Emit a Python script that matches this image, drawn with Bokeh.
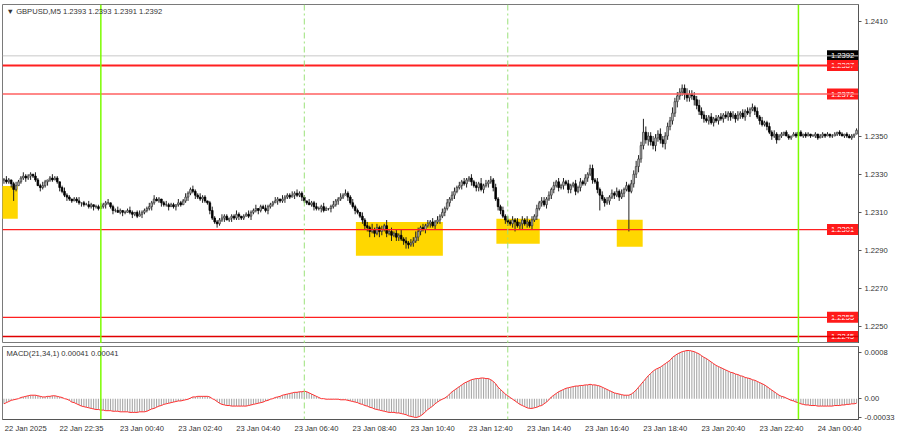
from bokeh.plotting import figure
from bokeh.models import Range1d, Span, Label, FixedTicker, NumeralTickFormatter, ColumnDataSource
from bokeh.core.properties import value
from bokeh.layouts import column
from bokeh.embed import file_html
from bokeh.resources import INLINE

# ---------------- data ----------------
PIP = 0.0001
BASE = 1.2200  # close_pips are pips above this price

# GBPUSD M5 closes, one per bar, starting 22 Jan 20:40
close_pips = [
    127, 126, 127, 125, 122, 124, 126, 128, 129, 128,
    129, 130, 129, 127, 124, 123, 124, 126, 127, 128,
    127, 128, 126, 123, 121, 119, 118, 117, 116, 117,
    116, 115, 115, 114, 114, 113, 114, 113, 113, 112,
    113, 114, 115, 115, 113, 111, 111, 110, 111, 110,
    110, 111, 110, 109, 110, 108, 109, 110, 111, 112,
    113, 115, 117, 116, 117, 115, 114, 114, 113, 114,
    113, 114, 115, 114, 116, 118, 120, 122, 121, 119,
    118, 117, 118, 116, 115, 111, 107, 105, 104, 106,
    107, 108, 106, 107, 108, 107, 109, 108, 107, 108,
    109, 108, 110, 111, 112, 111, 113, 112, 111, 113,
    114, 115, 116, 117, 116, 117, 118, 119, 118, 119,
    120, 119, 120, 118, 116, 115, 114, 115, 113, 112,
    112, 113, 111, 112, 112, 113, 114, 116, 117, 118,
    119, 120, 118, 115, 113, 111, 110, 108, 106, 103,
    102, 100, 101, 99, 102, 100, 101, 103, 99, 100,
    98, 99, 97, 98, 96, 95, 94, 93, 94, 95,
    97, 100, 102, 101, 103, 104, 105, 103, 105, 106,
    108, 110, 112, 115, 117, 119, 121, 123, 124, 126,
    125, 127, 128, 126, 124, 123, 125, 122, 124, 125,
    126, 127, 123, 117, 113, 111, 108, 106, 105, 104,
    106, 105, 103, 104, 106, 104, 105, 103, 106, 108,
    112, 115, 116, 114, 117, 119, 122, 124, 126, 123,
    124, 126, 125, 122, 124, 125, 121, 123, 126, 125,
    128, 130, 133, 127, 126, 122, 119, 117, 115, 116,
    118, 120, 119, 121, 118, 120, 122, 124, 121, 125,
    130, 134, 138, 145, 152, 148, 150, 147, 145, 149,
    151, 148, 146, 150, 155, 158, 162, 168, 171, 173,
    175, 172, 170, 172, 171, 169, 166, 163, 161, 159,
    158, 160, 157, 159, 158, 160, 159, 161, 160, 162,
    160, 161, 159, 161, 162, 160, 163, 162, 164, 165,
    163, 160, 158, 156, 157, 155, 152, 150, 151, 148,
    150, 151, 152, 150, 149, 150, 151, 150, 152, 150,
    151, 150, 151, 150, 150, 151, 149, 150, 151, 150,
    151, 150, 150, 151, 152, 151, 150, 151, 150, 149,
    150, 151, 153,
]

# wick length above / below each body, in pips
upper_wick_pips = [
    1, 2, 1, 0, 1, 2, 1, 1, 2, 1,  1, 1, 0, 2, 1, 1, 2, 1, 0, 1,
    2, 1, 1, 0, 1, 2, 1, 1, 0, 1,  1, 2, 0, 1, 1, 2, 1, 0, 1, 1,
    2, 1, 1, 2, 0, 1, 1, 2, 1, 0,  1, 1, 2, 1, 0, 1, 2, 1, 1, 1,
    2, 1, 2, 1, 1, 0, 1, 2, 1, 1,  1, 0, 2, 1, 1, 2, 1, 1, 2, 1,
    1, 2, 1, 1, 0, 1, 2, 1, 1, 1,  2, 1, 1, 0, 1, 1, 2, 1, 0, 1,
    1, 2, 1, 1, 2, 0, 1, 1, 2, 1,  1, 1, 2, 1, 0, 2, 1, 1, 1, 2,
    1, 2, 1, 1, 1, 0, 2, 1, 1, 2,  1, 1, 2, 1, 0, 1, 2, 1, 1, 2,
    1, 2, 1, 1, 2, 1, 1, 0, 2, 1,  2, 1, 3, 1, 2, 1, 2, 1, 3, 1,
    2, 1, 2, 1, 3, 1, 2, 1, 2, 2,  3, 2, 1, 2, 1, 2, 1, 2, 1, 2,
    1, 2, 1, 2, 1, 2, 2, 1, 2, 1,  2, 1, 1, 2, 1, 2, 1, 3, 1, 2,
    1, 2, 1, 2, 1, 1, 2, 1, 2, 1,  2, 1, 2, 1, 2, 1, 3, 1, 2, 1,
    2, 1, 2, 2, 1, 2, 1, 2, 1, 2,  1, 2, 1, 2, 1, 1, 2, 1, 2, 1,
    2, 1, 1, 2, 1, 2, 1, 2, 1, 2,  1, 2, 1, 2, 1, 2, 1, 2, 1, 2,
    2, 3, 2, 2, 2, 3, 2, 2, 3, 2,  2, 3, 2, 2, 2, 2, 3, 2, 2, 2,
    2, 2, 3, 2, 2, 2, 2, 3, 2, 2,  2, 1, 2, 1, 2, 1, 2, 1, 2, 1,
    1, 2, 1, 2, 1, 2, 1, 2, 1, 2,  1, 2, 1, 2, 1, 1, 2, 1, 2, 1,
    1, 1, 0, 1, 1, 0, 1, 1, 0, 1,  0, 1, 1, 0, 1, 1, 0, 1, 1, 0,
    1, 0, 1, 1, 0, 1, 1, 0, 1, 1,  1, 0, 1,
]
lower_wick_pips = [
    2, 1, 1, 2, 1, 1, 0, 1, 1, 2,  1, 2, 1, 1, 0, 2, 1, 1, 2, 1,
    1, 0, 1, 2, 1, 1, 2, 1, 1, 0,  1, 1, 2, 1, 0, 1, 1, 2, 1, 1,
    0, 1, 2, 1, 1, 2, 1, 0, 1, 2,  1, 0, 1, 2, 1, 1, 0, 2, 1, 1,
    1, 2, 1, 0, 1, 2, 1, 1, 2, 0,  1, 2, 1, 1, 0, 1, 2, 1, 1, 2,
    1, 1, 2, 1, 1, 2, 1, 1, 2, 1,  1, 2, 0, 1, 2, 1, 1, 2, 1, 1,
    0, 1, 2, 1, 1, 2, 1, 0, 1, 2,  1, 1, 0, 2, 1, 1, 2, 1, 1, 0,
    2, 1, 1, 2, 1, 1, 0, 1, 2, 1,  1, 2, 1, 0, 1, 2, 1, 1, 2, 1,
    1, 0, 2, 1, 1, 2, 1, 1, 2, 2,  2, 3, 1, 2, 1, 3, 2, 1, 2, 1,
    3, 1, 2, 2, 1, 2, 3, 2, 1, 2,  1, 2, 2, 1, 2, 1, 2, 1, 2, 1,
    2, 1, 2, 1, 2, 1, 2, 1, 1, 2,  1, 2, 1, 2, 1, 2, 2, 1, 2, 1,
    2, 1, 2, 1, 2, 2, 1, 2, 2, 1,  2, 2, 1, 2, 3, 1, 2, 1, 2, 1,
    2, 1, 2, 1, 2, 1, 2, 2, 1, 2,  1, 2, 1, 2, 2, 1, 2, 1, 2, 1,
    1, 2, 1, 2, 1, 2, 1, 1, 2, 1,  2, 1, 2, 1, 2, 1, 2, 1, 2, 1,
    2, 2, 3, 2, 2, 2, 3, 2, 2, 3,  2, 2, 2, 3, 2, 2, 2, 2, 3, 2,
    2, 3, 2, 2, 2, 3, 2, 2, 2, 2,  1, 2, 1, 2, 1, 2, 1, 2, 1, 2,
    2, 1, 2, 1, 2, 1, 2, 1, 2, 1,  2, 1, 2, 1, 1, 2, 1, 2, 1, 2,
    0, 1, 1, 0, 1, 1, 0, 1, 1, 0,  1, 1, 0, 1, 0, 1, 1, 0, 1, 1,
    0, 1, 1, 0, 1, 1, 0, 1, 1, 0,  1, 1, 0,
]

# bars with visibly long wicks
high_wick_bars = [11, 77, 192, 242, 264, 280, 309]
high_wick_pips = [131, 123, 129, 135, 159, 177, 166]
low_wick_bars = [4, 88, 166, 211, 246, 258]
low_wick_pips = [116, 102, 92, 100, 111, 100]

# MACD(21,34,1) per bar, in units of 0.00001
macd_e5 = [
    -9, -7, -5, -3, -2, -1, 0, 2, 3, 4,
    5, 6, 6, 6, 5, 4, 3, 3, 4, 4,
    5, 5, 4, 3, 2, 0, -1, -3, -6, -7,
    -9, -11, -13, -14, -15, -16, -17, -18, -19, -19,
    -20, -20, -21, -21, -21, -22, -22, -22, -23, -23,
    -23, -23, -24, -24, -24, -24, -23, -23, -23, -22,
    -20, -18, -17, -15, -13, -12, -10, -9, -8, -7,
    -6, -5, -4, -4, -3, -2, -1, 1, 3, 3,
    4, 4, 4, 4, 4, 3, 0, -2, -5, -8,
    -10, -11, -12, -12, -13, -13, -13, -13, -13, -13,
    -13, -12, -11, -10, -9, -8, -7, -6, -4, -3,
    -1, 0, 2, 3, 4, 6, 7, 8, 9, 10,
    11, 11, 12, 12, 13, 12, 10, 8, 6, 4,
    2, 0, 0, -1, -1, -1, -1, -1, -1, -2,
    -2, -2, -3, -4, -5, -6, -7, -9, -10, -12,
    -13, -15, -16, -18, -19, -20, -21, -22, -23, -24,
    -24, -24, -25, -25, -26, -27, -28, -30, -31, -32,
    -33, -32, -30, -27, -23, -19, -16, -13, -9, -6,
    -3, -1, 1, 4, 8, 12, 15, 18, 21, 24,
    27, 29, 31, 33, 34, 35, 35, 36, 36, 35,
    35, 33, 30, 26, 20, 16, 12, 8, 5, 2,
    -1, -4, -7, -10, -12, -14, -16, -17, -17, -16,
    -15, -13, -12, -9, -6, -2, 3, 6, 9, 12,
    14, 16, 18, 19, 20, 21, 22, 22, 23, 23,
    24, 24, 25, 24, 24, 23, 22, 20, 18, 16,
    14, 12, 10, 9, 8, 7, 6, 6, 6, 8,
    11, 15, 20, 25, 30, 35, 40, 44, 48, 51,
    53, 55, 58, 61, 64, 67, 72, 75, 78, 80,
    82, 83, 84, 84, 83, 82, 80, 78, 75, 72,
    70, 67, 64, 61, 58, 56, 54, 52, 50, 48,
    46, 45, 43, 42, 40, 39, 37, 36, 35, 33,
    32, 30, 28, 26, 24, 21, 18, 15, 12, 9,
    6, 4, 3, 1, -1, -3, -4, -6, -7, -9,
    -10, -11, -11, -12, -12, -12, -13, -13, -13, -13,
    -13, -13, -13, -12, -12, -12, -11, -11, -10, -10,
    -9, -9, -8,
]

# horizontal levels and their price tags
level_prices = [1.2392, 1.2387, 1.2372, 1.2301, 1.2255, 1.2245]
level_texts = ["1.2392", "1.2387", "1.2372", "1.2301", "1.2255", "1.2245"]

# yellow zones (bar index / price)
zone_left = [-1.0, 145.3, 203.3, 253.0]
zone_right = [5.7, 181.2, 221.2, 263.7]
zone_top = [1.23238, 1.23050, 1.23066, 1.23061]
zone_bottom = [1.23066, 1.22873, 1.22936, 1.22920]

# vertical markers (bar index)
day_break_bars = [40, 328]
session_bars = [124, 208]

# time axis (bar where each label starts)
tick_bars = [0, 23, 48, 72, 96, 120, 144, 168, 192, 216, 240, 264, 288, 312, 336]
tick_labels = ["22 Jan 2025", "22 Jan 22:35", "23 Jan 00:40", "23 Jan 02:40",
               "23 Jan 04:40", "23 Jan 06:40", "23 Jan 08:40", "23 Jan 10:40",
               "23 Jan 12:40", "23 Jan 14:40", "23 Jan 16:40", "23 Jan 18:40",
               "23 Jan 20:40", "23 Jan 22:40", "24 Jan 00:40"]

price_ticks = [1.2250, 1.2270, 1.2290, 1.2310, 1.2330, 1.2350, 1.2410]
macd_ticks = [-33, 0, 80]
macd_tick_texts = ["-0.00033", "0.00", "0.0008"]

header_text = "\u25bc GBPUSD,M5  1.2393 1.2393 1.2391 1.2392"
macd_header = "MACD(21,34,1) 0.00041 0.00041"

# ---------------- build OHLC ----------------
n = len(close_pips)
bars = list(range(n))
closes = [BASE + c * PIP for c in close_pips]
opens = [closes[0]] + closes[:-1]
highs = [max(o, c) + u * PIP for o, c, u in zip(opens, closes, upper_wick_pips)]
lows = [min(o, c) - d * PIP for o, c, d in zip(opens, closes, lower_wick_pips)]
for b, v in zip(high_wick_bars, high_wick_pips):
    highs[b] = max(highs[b], BASE + v * PIP)
for b, v in zip(low_wick_bars, low_wick_pips):
    lows[b] = min(lows[b], BASE + v * PIP)

up = [c >= o for o, c in zip(opens, closes)]
src_up = ColumnDataSource(dict(
    x=[b for b in bars if up[b]],
    top=[max(opens[b], closes[b]) for b in bars if up[b]],
    bottom=[min(opens[b], closes[b]) for b in bars if up[b]]))
src_dn = ColumnDataSource(dict(
    x=[b for b in bars if not up[b]],
    top=[max(opens[b], closes[b]) for b in bars if not up[b]],
    bottom=[min(opens[b], closes[b]) for b in bars if not up[b]]))
src_wick = ColumnDataSource(dict(x=bars, hi=highs, lo=lows))

FONT = "Liberation Sans"
FS = "7.6px"
X0, X1 = -0.6, 352.8
FRAME_W = 856
LEFT_B = 2
LABEL_SHIFT = 9  # bars: centre of a label that starts at its bar
PX_PER_BAR = FRAME_W / (X1 - X0)

# ---------------- main price panel ----------------
p = figure(frame_width=FRAME_W, frame_height=339, x_range=Range1d(X0, X1),
           y_range=Range1d(1.22413, 1.24189),
           output_backend="svg", toolbar_location=None,
           x_axis_location=None, y_axis_location="right",
           min_border_left=LEFT_B, min_border_right=0, min_border_top=4, min_border_bottom=0)
p.grid.visible = False
p.outline_line_color = "#7a7a7a"
p.background_fill_color = "white"
p.border_fill_color = "white"

p.quad(left=zone_left, right=zone_right, top=zone_top, bottom=zone_bottom,
       fill_color="#FFD700", line_color=None)

p.segment(x0="x", y0="lo", x1="x", y1="hi", source=src_wick, line_color="#222222", line_width=1)
p.vbar(x="x", top="top", bottom="bottom", width=0.68, source=src_up,
       fill_color="#d0d0d0", line_color="#3a3a3a", line_width=0.8)
p.vbar(x="x", top="top", bottom="bottom", width=0.68, source=src_dn,
       fill_color="#000000", line_color="#000000", line_width=0.8)

level_colors = ["#c8c8c8", "#ff2020", "#ff6060", "#ff2020", "#ff2020", "#e00000"]
level_widths = [1, 2, 1.5, 1.3, 1.3, 1.6]
for lp, lc, lw in zip(level_prices, level_colors, level_widths):
    p.add_layout(Span(location=lp, dimension="width", line_color=lc, line_width=lw))

for b in day_break_bars:
    p.add_layout(Span(location=b, dimension="height", line_color="#7cfc00", line_width=1.5))
for b in session_bars:
    p.add_layout(Span(location=b, dimension="height", line_color="#9be27a",
                      line_width=1, line_dash="6 3 2 3"))

# price tags at the right edge of the chart
tag_w, tag_h = 31, 11
tag_x = X1 - (tag_w / 2 + 0.5) / PX_PER_BAR
tag_colors = ["#000000" if t == "1.2392" else "#ff1a1a" for t in level_texts]
tag_src = ColumnDataSource(dict(y=level_prices, t=level_texts, c=tag_colors,
                                x=[tag_x] * len(level_prices)))
p.rect(x="x", y="y", width=tag_w, height=tag_h, width_units="screen", height_units="screen",
       fill_color="c", line_color=None, source=tag_src)
p.text(x="x", y="y", text="t", source=tag_src, text_align="center", text_baseline="middle",
       text_font=value(FONT), text_font_size=value(FS), text_color="white")

ax = p.yaxis[0]
ax.ticker = FixedTicker(ticks=price_ticks)
ax.formatter = NumeralTickFormatter(format="0.0000")
ax.axis_line_color = "#555555"
ax.major_tick_line_color = "#555555"
ax.major_tick_out = 3
ax.major_tick_in = 0
ax.minor_tick_line_color = None
ax.major_label_text_font = FONT
ax.major_label_text_font_size = FS
ax.major_label_text_color = "#333333"
ax.major_label_standoff = 3

p.add_layout(Label(x=X0, y=1.24189, x_offset=4, y_offset=-7, text=header_text,
                   text_align="left", text_baseline="middle", text_font=FONT,
                   text_font_size=FS, text_color="#333333"))

# ---------------- MACD panel ----------------
m = figure(frame_width=FRAME_W, frame_height=73, x_range=p.x_range, y_range=Range1d(-36.4, 91),
           output_backend="svg", toolbar_location=None,
           x_axis_location="below", y_axis_location="right",
           min_border_left=LEFT_B, min_border_right=0, min_border_top=3, min_border_bottom=0)
m.grid.visible = False
m.outline_line_color = "#7a7a7a"

m.vbar(x=bars, top=macd_e5, bottom=0, width=0.45, fill_color="#a8a8a8", line_color=None)
m.line(x=bars, y=macd_e5, line_color="#ff3030", line_width=1)

for b in day_break_bars:
    m.add_layout(Span(location=b, dimension="height", line_color="#7cfc00", line_width=1.5))
for b in session_bars:
    m.add_layout(Span(location=b, dimension="height", line_color="#9be27a",
                      line_width=1, line_dash="6 3 2 3"))

my = m.yaxis[0]
my.ticker = FixedTicker(ticks=macd_ticks)
my.major_label_overrides = {t: s for t, s in zip(macd_ticks, macd_tick_texts)}
my.axis_line_color = "#555555"
my.major_tick_line_color = "#555555"
my.major_tick_out = 3
my.major_tick_in = 0
my.minor_tick_line_color = None
my.major_label_text_font = FONT
my.major_label_text_font_size = FS
my.major_label_text_color = "#333333"
my.major_label_standoff = 3

label_pos = [b + LABEL_SHIFT for b in tick_bars]
mx = m.xaxis[0]
mx.ticker = FixedTicker(ticks=label_pos)
mx.major_label_overrides = {t: s for t, s in zip(label_pos, tick_labels)}
mx.axis_line_color = "#555555"
mx.major_tick_line_color = None
mx.major_tick_out = 0
mx.major_tick_in = 0
mx.minor_tick_line_color = None
mx.major_label_text_font = FONT
mx.major_label_text_font_size = FS
mx.major_label_text_color = "#333333"
mx.major_label_standoff = 4

m.add_layout(Label(x=X0, y=91, x_offset=4, y_offset=-7, text=macd_header,
                   text_align="left", text_baseline="middle", text_font=FONT,
                   text_font_size=FS, text_color="#333333"))

layout = column(p, m, spacing=0)
open("out.html", "w").write(file_html(layout, INLINE))
